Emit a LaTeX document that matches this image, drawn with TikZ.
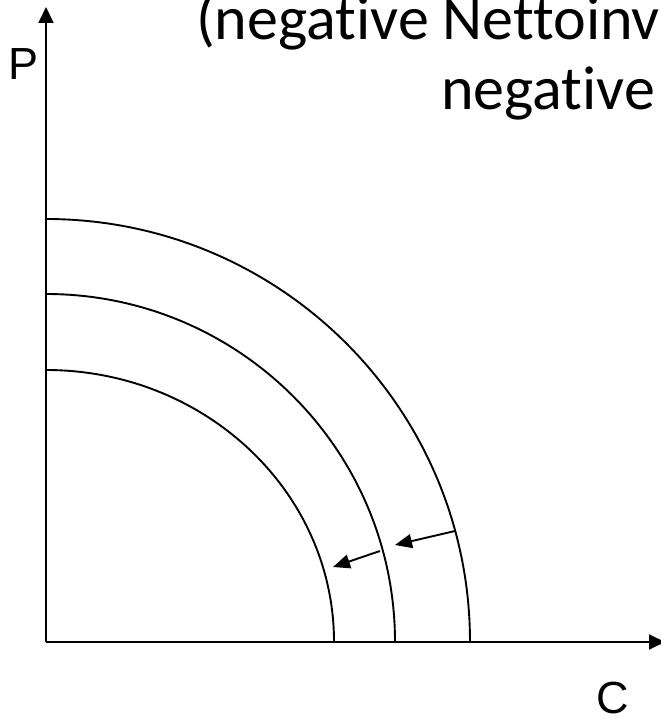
\documentclass[tikz,border=0pt]{standalone}
\usepackage{fontspec}
\newfontfamily\titlefont[Ligatures={NoCommon}]{Carlito}
\newfontfamily\axisfont{Liberation Sans}
\usetikzlibrary{arrows.meta}
\begin{document}
\begin{tikzpicture}[x=1pt,y=1pt,
  curve/.style={line width=1.9pt},
  axisline/.style={line width=1.9pt,-{Triangle[length=16pt,width=15pt]}},
  shiftarrow/.style={line width=1.9pt,-{Triangle[length=17pt,width=14pt]}},
  lbl/.style={inner sep=0pt,anchor=base west}]
\useasboundingbox (0,0) rectangle (661,718);
\coordinate (O) at (46,76);
\coordinate (ytip) at (46,711);
\coordinate (xtip) at (665,76);
\draw[axisline] (O) -- (ytip);
\draw[axisline] (O) -- (xtip);
% production possibility curves
\draw[curve] (46,76+423) arc[start angle=90,end angle=0,x radius=424,y radius=423];
\draw[curve] (46,76+348) arc[start angle=90,end angle=0,x radius=349,y radius=348];
\draw[curve] (46,76+272) arc[start angle=90,end angle=0,x radius=288,y radius=272];
% shift arrows
\coordinate (a1s) at (455,187);
\coordinate (a1e) at (395,173);
\coordinate (a2s) at (380,167);
\coordinate (a2e) at (333,151);
\draw[shiftarrow] (a1s) -- (a1e);
\draw[shiftarrow] (a2s) -- (a2e);
% labels
\node[lbl] (P) at (8,638) {\axisfont\fontsize{45}{54}\selectfont P};
\node[lbl] (C) at (596,5) {\axisfont\fontsize{45}{54}\selectfont C};
\node[lbl] (t1) at (196,678) {\titlefont\fontsize{62}{74}\selectfont (negative Nettoinv};
\node[lbl] (t2) at (441,608) {\titlefont\fontsize{62}{74}\selectfont negative};
\end{tikzpicture}
\end{document}
